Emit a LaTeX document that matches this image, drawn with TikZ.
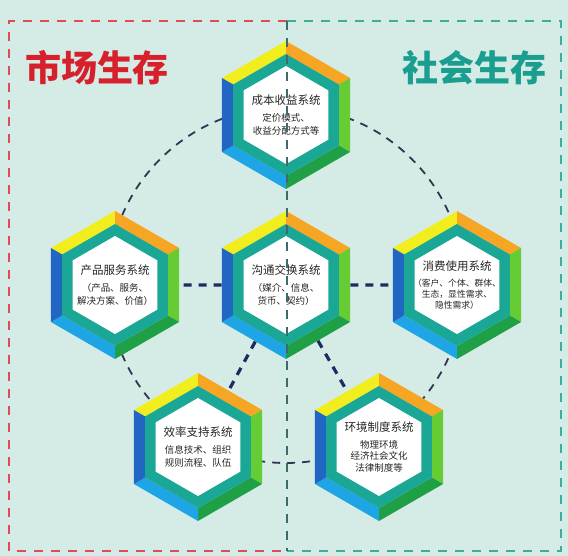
\documentclass[tikz,border=0pt]{standalone}
\usepackage{fontspec}
\setmainfont{Noto Sans CJK SC}
\usetikzlibrary{shapes.geometric, positioning, backgrounds}
\pgfdeclarelayer{links}
\pgfdeclarelayer{cells}
\pgfsetlayers{background,links,cells,main}

\definecolor{bgmint}{HTML}{D5ECE6}
\definecolor{hexyellow}{HTML}{F2EE1E}
\definecolor{hexorange}{HTML}{F6A623}
\definecolor{hexlime}{HTML}{66CC33}
\definecolor{hexgreen}{HTML}{1FA046}
\definecolor{hexcyan}{HTML}{1EA5E6}
\definecolor{hexblue}{HTML}{2266C4}
\definecolor{hexteal}{HTML}{1BA796}
\definecolor{marketred}{HTML}{D7202B}
\definecolor{societyteal}{HTML}{1A9E8F}
\definecolor{linknavy}{HTML}{1E2B63}
\definecolor{ringgray}{HTML}{2E3650}
\definecolor{splitgray}{HTML}{3E6A6C}

\newcommand{\hexhead}[1]{{\fontsize{11.5}{14}\selectfont #1}\\[5pt]}
% bevelled frame round a cell
\newcommand{\hexframe}[1]{%
   \begin{scope}[shift={(#1.center)}]
      \foreach \a/\c in {90/hexyellow, 30/hexorange, -30/hexlime,
                         -90/hexgreen, -150/hexcyan, 150/hexblue}
         \fill[\c] (\a:74pt) -- (\a+60:74pt) -- (\a+60:61pt) -- (\a:61pt) -- cycle;
      \fill[hexteal] (90:61pt) -- (150:61pt) -- (210:61pt) -- (270:61pt) -- (330:61pt) -- (30:61pt) -- cycle;
      \fill[white] (90:49pt) -- (150:49pt) -- (210:49pt) -- (270:49pt) -- (330:49pt) -- (30:49pt) -- cycle;
   \end{scope}}

\begin{document}
\begin{tikzpicture}[
    x=1pt, y=1pt,
    node distance=171pt,
    on grid,
    hexcell/.style={regular polygon, regular polygon sides=6, shape border rotate=30,
        minimum size=148pt, inner sep=0pt, align=center, text=black!85,
        font=\fontsize{9.5}{12.5}\selectfont},
    sidetitle/.style={font=\fontsize{36}{40}\selectfont\bfseries},
    frameline/.style={line width=1.3pt, dash pattern=on 9pt off 8pt},
    ring/.style={line width=1.8pt, ringgray, dash pattern=on 8pt off 7pt},
    spoke/.style={line width=3.2pt, linknavy, dash pattern=on 8pt off 7pt},
    splitline/.style={line width=1.5pt, splitgray, dash pattern=on 9pt off 8pt}
]
   \useasboundingbox (0,0) rectangle (568,556);

   % Hexagon cells
   \node[hexcell] (chan) at (286,271) {\hexhead{沟通交换系统}（媒介、信息、\\货币、契约）};
   \node[hexcell] (prod) [left=of chan] {\hexhead{产品服务系统}（产品、服务、\\解决方案、价值）};
   \node[hexcell, font=\fontsize{8.8}{11}\selectfont] (cons) [right=of chan] {\hexhead{消费使用系统}（客户、个体、群体、\\生态，显性需求、\\隐性需求）};
   \node[hexcell] (cost) [above=170pt of chan] {\hexhead{成本收益系统}定价模式、\\收益分配方式等};
   \node[hexcell] (eff) [below left=162pt and 88pt of chan] {\hexhead{效率支持系统}信息技术、组织\\规则流程、队伍};
   \node[hexcell, font=\fontsize{9.5}{11.5}\selectfont] (env) [below right=162pt and 93pt of chan] {\hexhead{环境制度系统}物理环境\\经济社会文化\\法律制度等};

   \begin{pgfonlayer}{cells}
      \foreach \n in {chan, prod, cons, cost, eff, env}
         \hexframe{\n};
   \end{pgfonlayer}

   % Side titles
   \node[sidetitle, marketred] (market) at (97,488) {市场生存};
   \node[sidetitle, societyteal] (society) at (474,488) {社会生存};

   % Background and frame
   \begin{pgfonlayer}{background}
      \fill[bgmint] (0,0) rectangle (568,556);
      \draw[frameline, marketred!80] (287,535) -- (9,535) -- (9,5) -- (287,5);
      \draw[frameline, societyteal!85] (287,535) -- (561,535) -- (561,5) -- (287,5);
   \end{pgfonlayer}

   % Links
   \begin{pgfonlayer}{links}
      \draw[ring] (chan.center) circle[radius=178pt];
      \path[spoke]
      (chan) edge (prod)
      (chan) edge (cons)
      (chan) edge (eff)
      (chan) edge (env);
   \end{pgfonlayer}

   % Divider
   \draw[splitline] (287,535) -- (287,5);
\end{tikzpicture}
\end{document}
